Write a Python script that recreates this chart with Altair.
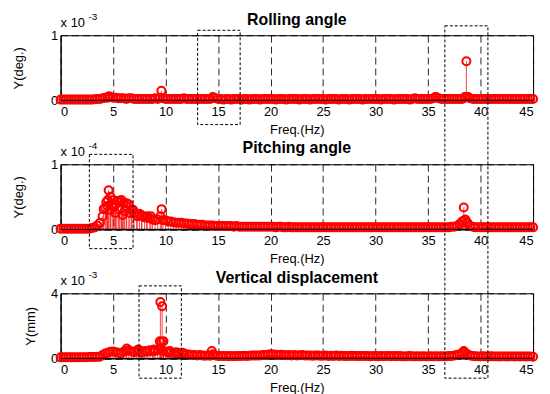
import altair as alt
import pandas as pd

# Frequency grid of the spectra (Hz)
freq_start = 0.0
freq_step = 0.25
freq_count = 181

# ---- Rolling angle spectrum (x 1e-3 deg.) ----
roll_base = [
    0.01, 0.01, 0.01, 0.01, 0.01, 0.01, 0.01, 0.01, 0.01, 0.01, 0.01, 0.01, 0.01, 0.015, 0.02, 0.02, 0.03, 0.04, 0.04, 0.05,
    0.04, 0.04, 0.03, 0.03, 0.03, 0.02, 0.03, 0.03, 0.02, 0.02, 0.02, 0.02, 0.02, 0.02, 0.02, 0.02, 0.03, 0.02, 0.04, 0.03,
    0.02, 0.02, 0.02, 0.02, 0.02, 0.02, 0.02, 0.03, 0.02, 0.02, 0.02, 0.02, 0.02, 0.02, 0.02, 0.02, 0.02, 0.02, 0.04, 0.03,
    0.02, 0.02, 0.01, 0.02, 0.02, 0.01, 0.02, 0.02, 0.02, 0.01, 0.02, 0.02, 0.01, 0.02, 0.02, 0.02, 0.01, 0.02, 0.02, 0.02,
    0.02, 0.02, 0.01, 0.02, 0.02, 0.02, 0.01, 0.02, 0.02, 0.02, 0.02, 0.01, 0.02, 0.02, 0.02, 0.01, 0.02, 0.02, 0.02, 0.02,
    0.02, 0.01, 0.02, 0.02, 0.02, 0.02, 0.01, 0.02, 0.02, 0.02, 0.01, 0.02, 0.02, 0.02, 0.02, 0.01, 0.02, 0.02, 0.02, 0.02,
    0.02, 0.02, 0.01, 0.02, 0.02, 0.02, 0.02, 0.01, 0.02, 0.02, 0.02, 0.02, 0.02, 0.01, 0.02, 0.03, 0.02, 0.02, 0.02, 0.02,
    0.02, 0.02, 0.03, 0.05, 0.03, 0.02, 0.02, 0.02, 0.02, 0.02, 0.02, 0.02, 0.02, 0.02, 0.04, 0.05, 0.03, 0.02, 0.02, 0.02,
    0.02, 0.02, 0.02, 0.02, 0.02, 0.02, 0.02, 0.02, 0.02, 0.02, 0.02, 0.02, 0.02, 0.02, 0.02, 0.02, 0.02, 0.02, 0.02, 0.02,
    0.02,
]
roll_peak_f = [9.6, 38.65, 38.5, 38.8, 35.7, 14.5, 4.6]
roll_peak_v = [0.145, 0.60, 0.05, 0.05, 0.05, 0.05, 0.06]

# ---- Pitching angle spectrum (x 1e-4 deg.) ----
pitch_base = [
    0.01, 0.01, 0.01, 0.01, 0.01, 0.01, 0.01, 0.01, 0.01, 0.01, 0.01, 0.01, 0.02, 0.03, 0.06, 0.10, 0.20, 0.33, 0.45, 0.50,
    0.45, 0.38, 0.44, 0.42, 0.40, 0.36, 0.38, 0.30, 0.25, 0.22, 0.24, 0.20, 0.18, 0.20, 0.17, 0.15, 0.14, 0.15, 0.20, 0.14,
    0.14, 0.12, 0.12, 0.11, 0.10, 0.10, 0.10, 0.09, 0.09, 0.08, 0.08, 0.08, 0.07, 0.07, 0.07, 0.06, 0.06, 0.06, 0.06, 0.05,
    0.05, 0.05, 0.05, 0.05, 0.05, 0.05, 0.04, 0.05, 0.04, 0.04, 0.04, 0.04, 0.04, 0.04, 0.04, 0.04, 0.04, 0.04, 0.04, 0.04,
    0.04, 0.04, 0.03, 0.04, 0.04, 0.03, 0.03, 0.04, 0.03, 0.03, 0.03, 0.03, 0.03, 0.03, 0.03, 0.03, 0.03, 0.03, 0.03, 0.03,
    0.03, 0.03, 0.03, 0.03, 0.03, 0.03, 0.03, 0.03, 0.03, 0.03, 0.03, 0.03, 0.03, 0.03, 0.03, 0.03, 0.03, 0.03, 0.03, 0.03,
    0.03, 0.03, 0.03, 0.03, 0.03, 0.03, 0.03, 0.03, 0.03, 0.03, 0.03, 0.03, 0.03, 0.03, 0.03, 0.03, 0.03, 0.03, 0.03, 0.03,
    0.03, 0.03, 0.03, 0.03, 0.03, 0.03, 0.03, 0.03, 0.03, 0.04, 0.04, 0.05, 0.08, 0.12, 0.14, 0.10, 0.05, 0.04, 0.03, 0.03,
    0.03, 0.03, 0.03, 0.03, 0.03, 0.03, 0.03, 0.03, 0.03, 0.03, 0.03, 0.03, 0.03, 0.03, 0.03, 0.03, 0.03, 0.03, 0.03, 0.03,
    0.03,
]
pitch_peak_f = [4.57, 4.1, 4.35, 4.45, 4.7, 4.9, 5.1, 5.2, 5.36, 5.6, 5.8, 5.9, 6.1, 6.3, 6.6,
                6.9, 7.3, 7.7, 8.2, 8.6, 9.62, 38.4, 38.3, 38.55, 38.7]
pitch_peak_v = [0.60, 0.31, 0.42, 0.36, 0.30, 0.38, 0.35, 0.25, 0.43, 0.30, 0.45, 0.22, 0.28, 0.40, 0.25,
                0.30, 0.20, 0.22, 0.18, 0.20, 0.31, 0.335, 0.12, 0.15, 0.10]

# ---- Vertical displacement spectrum (x 1e-3 mm) ----
vert_base = [
    0.06, 0.07, 0.06, 0.06, 0.06, 0.07, 0.07, 0.06, 0.07, 0.07, 0.07, 0.08, 0.08, 0.08, 0.09, 0.10, 0.20, 0.30, 0.35, 0.40,
    0.42, 0.38, 0.35, 0.30, 0.40, 0.45, 0.50, 0.42, 0.38, 0.45, 0.40, 0.35, 0.45, 0.40, 0.50, 0.42, 0.45, 0.50, 0.60, 0.45,
    0.42, 0.35, 0.40, 0.30, 0.38, 0.30, 0.35, 0.28, 0.25, 0.22, 0.20, 0.20, 0.18, 0.20, 0.17, 0.16, 0.18, 0.16, 0.25, 0.18,
    0.15, 0.15, 0.14, 0.15, 0.13, 0.14, 0.13, 0.15, 0.14, 0.15, 0.16, 0.15, 0.16, 0.17, 0.18, 0.17, 0.18, 0.20, 0.20, 0.22,
    0.25, 0.24, 0.22, 0.20, 0.22, 0.20, 0.19, 0.20, 0.18, 0.20, 0.18, 0.19, 0.20, 0.18, 0.17, 0.18, 0.16, 0.18, 0.17, 0.16,
    0.16, 0.17, 0.15, 0.16, 0.15, 0.17, 0.15, 0.16, 0.15, 0.14, 0.15, 0.16, 0.15, 0.14, 0.15, 0.14, 0.15, 0.14, 0.13, 0.14,
    0.14, 0.13, 0.14, 0.13, 0.14, 0.15, 0.13, 0.14, 0.13, 0.14, 0.13, 0.12, 0.13, 0.14, 0.13, 0.12, 0.13, 0.12, 0.13, 0.12,
    0.12, 0.13, 0.12, 0.13, 0.12, 0.13, 0.12, 0.13, 0.14, 0.15, 0.17, 0.20, 0.25, 0.30, 0.35, 0.25, 0.18, 0.14, 0.13, 0.12,
    0.12, 0.13, 0.12, 0.12, 0.13, 0.12, 0.12, 0.11, 0.12, 0.12, 0.11, 0.12, 0.12, 0.11, 0.12, 0.11, 0.12, 0.11, 0.11, 0.12,
    0.10,
]
vert_peak_f = [9.45, 9.5, 9.6, 9.67, 9.8, 6.3, 14.4, 38.4, 7.4, 8.9, 10.4, 11.6]
vert_peak_v = [1.05, 3.46, 1.00, 3.20, 1.05, 0.60, 0.45, 0.45, 0.55, 0.55, 0.45, 0.35]

x_ticks = [0, 5, 10, 15, 20, 25, 30, 35, 40, 45]

freqs = [freq_start + i * freq_step for i in range(freq_count)]

FONT = "Liberation Sans"
W, H = 476, 65.5


def make_panel(base, pf, pv, title, title_y, ytitle, ymax, yticks, expo, ytitle_x, boxes):
    df = pd.DataFrame({"f": freqs + pf, "v": base + pv})
    xs = alt.Scale(domain=[0, 45], nice=False, zero=False)
    ys = alt.Scale(domain=[0, ymax], nice=False)
    xax = alt.Axis(values=x_ticks, grid=True, ticks=False, labelPadding=5,
                   labelFont=FONT, labelFontSize=13, titleFont=FONT, titleFontSize=13,
                   title="Freq.(Hz)", titlePadding=5, format="d",
                   titleFontWeight="normal")
    yax = alt.Axis(values=yticks, grid=True, ticks=False, labelPadding=3,
                   labelFont=FONT, labelFontSize=13, titleFont=FONT, titleFontSize=13,
                   title=ytitle, titleX=ytitle_x, titleY=H / 2, format="~g",
                   titleFontWeight="normal")
    stems = alt.Chart(df).mark_rule(color="red", strokeWidth=1, opacity=0.75).encode(
        x=alt.X("f:Q", scale=xs, axis=xax),
        y=alt.Y("v:Q", scale=ys, axis=yax),
        y2=alt.datum(0),
    )
    pts = alt.Chart(df).mark_point(shape="circle", filled=False, color="red",
                                   size=65, strokeWidth=2, opacity=1).encode(
        x="f:Q", y="v:Q")
    zero = alt.Chart(pd.DataFrame({"z": [0]})).mark_rule(color="black", strokeWidth=1).encode(
        y="z:Q")
    t1 = alt.Chart(pd.DataFrame({"t": ["x 10"]})).mark_text(
        align="left", baseline="alphabetic", font=FONT, fontSize=13, color="black").encode(
        x=alt.value(0), y=alt.value(-8), text="t:N")
    t2 = alt.Chart(pd.DataFrame({"t": [expo]})).mark_text(
        align="left", baseline="alphabetic", font=FONT, fontSize=10, color="black").encode(
        x=alt.value(28), y=alt.value(-15), text="t:N")
    tt = alt.Chart(pd.DataFrame({"t": [title]})).mark_text(
        align="center", baseline="alphabetic", font=FONT, fontSize=16, fontWeight="bold",
        color="black").encode(x=alt.value(W / 2), y=alt.value(title_y), text="t:N")
    layers = [stems, pts, zero, t1, t2, tt]
    for (x1, x2, y1, y2) in boxes:
        b = alt.Chart(pd.DataFrame({"a": [x1], "b": [x2]})).mark_rect(
            fill="white", fillOpacity=0, stroke="black", strokeDash=[3, 2], strokeWidth=1).encode(
            x=alt.X("a:Q", scale=xs), x2="b:Q", y=alt.value(y1), y2=alt.value(y2))
        layers.append(b)
    return alt.layer(*layers).properties(width=W, height=H)


p1 = make_panel(roll_base, roll_peak_f, roll_peak_v, "Rolling angle", -10, "Y(deg.)", 1,
                [0, 0.5, 1], "-3", -35, [(13.05, 17.1, -5, 90)])
p2 = make_panel(pitch_base, pitch_peak_f, pitch_peak_v, "Pitching angle", -11, "Y(deg.)", 1,
                [0, 0.5, 1], "-4", -35, [(2.74, 6.9, -10, 85)])
p3 = make_panel(vert_base, vert_peak_f, vert_peak_v, "Vertical displacement", -10, "Y(mm)", 4,
                [0, 2, 4], "-3", -23, [(7.47, 11.5, -7.5, 85.5), (36.6, 40.7, -269.5, 85.5)])

chart = alt.vconcat(p1, p2, p3, spacing=64, bounds="flush").properties(
    padding={"left": 4, "top": 2, "right": 0, "bottom": 0}
).configure_axis(
    labelFont=FONT, labelFontSize=13, labelColor="black",
    titleFont=FONT, titleFontSize=13, titleFontWeight="normal", titleColor="black",
    domainColor="black", domainWidth=1,
    gridColor="black", gridDash=[7, 4], gridOpacity=0.85, gridWidth=1,
).configure_view(stroke="black", strokeWidth=1)

chart.save("out.html", embed_options={"renderer": "svg", "actions": False})
